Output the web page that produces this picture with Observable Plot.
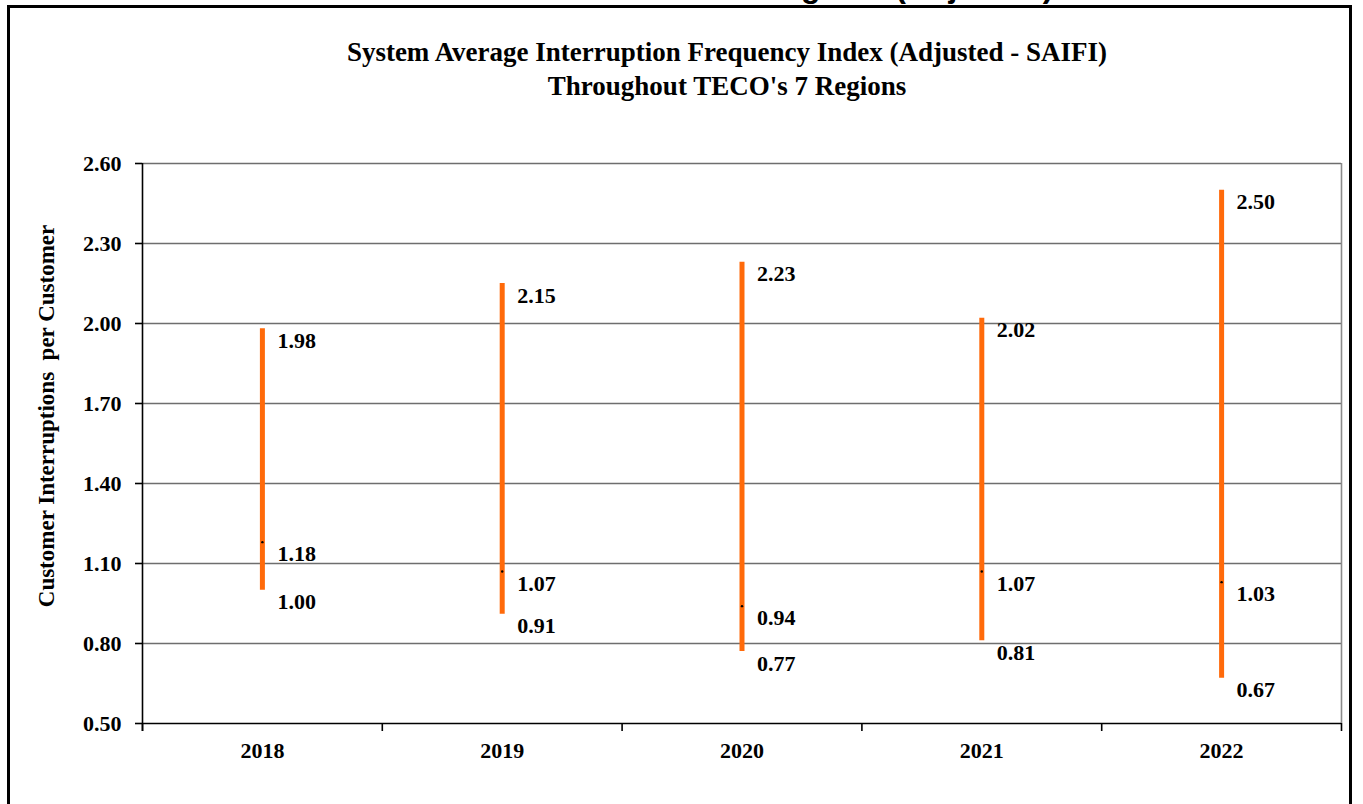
<!DOCTYPE html>
<html>
<head>
<meta charset="utf-8">
<script src="https://cdn.jsdelivr.net/npm/d3@7"></script>
<script src="https://cdn.jsdelivr.net/npm/@observablehq/plot@0.6"></script>
<style>
  html, body { margin: 0; padding: 0; background: #fff; overflow: hidden; }
  #wrap { position: relative; width: 1363px; height: 804px; overflow: hidden; background: #fff; }
  #frame { position: absolute; left: 7px; top: 5px; width: 1345px; height: 900px; border: 3px solid #000; box-sizing: border-box; border-bottom: none; }
  #cut { position: absolute; left: 760px; top: -31px; font: bold 32px "Liberation Sans", Arial, sans-serif; line-height: 34px; white-space: nowrap; color: #000; }
  #title { position: absolute; left: 0; width: 1454px; top: 35px; text-align: center; font: bold 27px "Liberation Serif", "Times New Roman", serif; line-height: 34px; color: #000; }
  #ylab { position: absolute; left: 47px; top: 416px; transform: translate(-50%, -50%) rotate(-90deg); white-space: pre; font: bold 23px "Liberation Serif", "Times New Roman", serif; color: #000; }
  #chart { position: absolute; left: 0; top: 0; }
</style>
</head>
<body>
<div id="wrap">
  <div id="cut">Regions (Adjusted)</div>
  <div id="frame"></div>
  <div id="chart"></div>
  <div id="title">System Average Interruption Frequency Index (Adjusted - SAIFI)<br>Throughout TECO's 7 Regions</div>
  <div id="ylab">Customer Interruptions  per Customer</div>
</div>
<script>
const years = ["2018", "2019", "2020", "2021", "2022"];
const highValues = [1.98, 2.15, 2.23, 2.02, 2.50];
const lowValues = [1.00, 0.91, 0.77, 0.81, 0.67];
const meanValues = [1.18, 1.07, 0.94, 1.07, 1.03];
const yTicks = [0.50, 0.80, 1.10, 1.40, 1.70, 2.00, 2.30, 2.60];

const table = years.map((year, i) => ({
  year, pos: i + 0.5, high: highValues[i], low: lowValues[i], mean: meanValues[i]
}));
const boundaries = d3.range(years.length + 1);
const fmt = d3.format(".2f");
const labelStyle = {dx: 15, dy: 12, textAnchor: "start", fontSize: 22, fontWeight: "bold", fill: "#000"};

const chart = Plot.plot({
  width: 1363,
  height: 804,
  marginLeft: 142,
  marginRight: 22,
  marginTop: 163,
  marginBottom: 81,
  style: {fontFamily: "'Liberation Serif', 'Times New Roman', serif", fontWeight: "bold", fontSize: "22px", color: "#000", background: "transparent"},
  x: {domain: [0, years.length], axis: null, label: null},
  y: {domain: [0.5, 2.6], axis: null, label: null},
  marks: [
    Plot.ruleY(yTicks.filter(d => d > 0.5), {stroke: "#6e6e6e", strokeWidth: 1.6}),
    Plot.ruleX([years.length], {y1: 0.5, y2: 2.6, stroke: "#8c8c8c", strokeWidth: 1.6}),
    Plot.ruleY([0.5], {stroke: "#000", strokeWidth: 1.6}),
    Plot.ruleX([0], {y1: 0.47, y2: 2.6, stroke: "#000", strokeWidth: 1.6}),
    Plot.ruleX(boundaries, {y1: 0.5, y2: 0.47, stroke: "#000", strokeWidth: 1.6}),
    Plot.axisY({ticks: yTicks, tickSize: 7, tickPadding: 14, tickFormat: fmt, label: null, fontSize: 22, fontWeight: "bold", stroke: "#000", strokeWidth: 1.6}),
    Plot.axisX({ticks: table.map(d => d.pos), tickSize: 0, tickPadding: 19, label: null, tickFormat: v => years[Math.round(v - 0.5)], fontSize: 22, fontWeight: "bold"}),
    Plot.ruleX(table, {x: "pos", y1: "low", y2: "high", stroke: "#ff6a0a", strokeWidth: 5}),
    Plot.dot(table, {x: "pos", y: "mean", r: 1.2, fill: "#000", stroke: null}),
    Plot.text(table, {x: "pos", y: "high", text: d => fmt(d.high), ...labelStyle}),
    Plot.text(table, {x: "pos", y: "mean", text: d => fmt(d.mean), ...labelStyle}),
    Plot.text(table, {x: "pos", y: "low", text: d => fmt(d.low), ...labelStyle})
  ]
});
document.getElementById("chart").appendChild(chart);
</script>
</body>
</html>
